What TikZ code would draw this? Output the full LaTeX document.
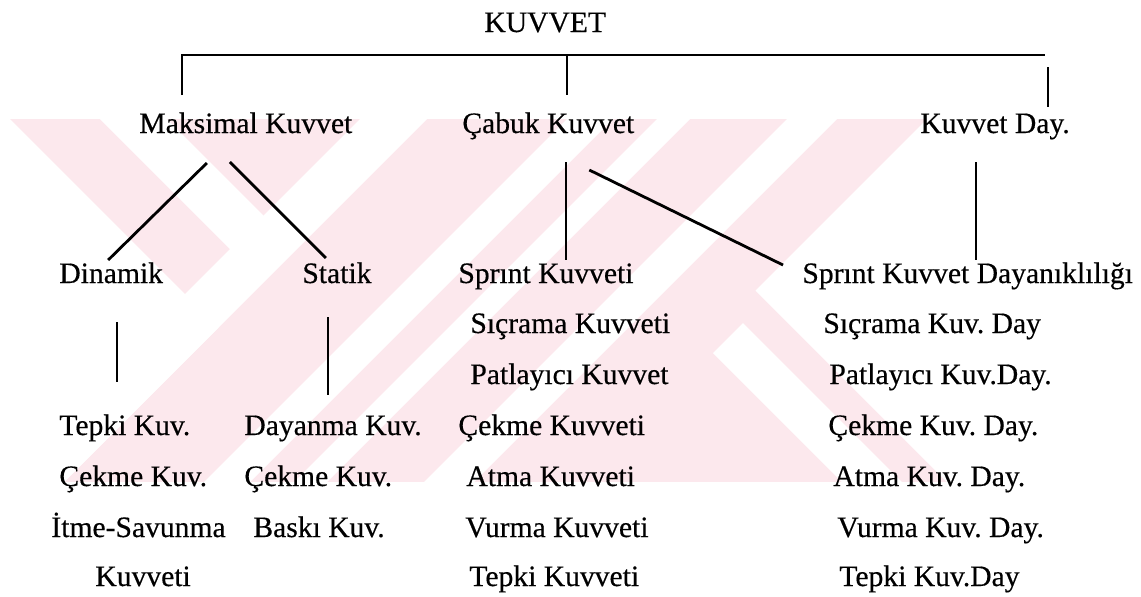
\documentclass[tikz,border=0pt]{standalone}
\usepackage{fontspec}
\setmainfont{Liberation Serif}[FakeBold=0.4]
\usetikzlibrary{positioning,calc}
\definecolor{wmpink}{RGB}{252,232,237}
\frenchspacing

\begin{document}
\begin{tikzpicture}[
    x=0.5pt, y=-0.5pt,
    lbl/.style={inner sep=0pt, anchor=base west, font=\fontsize{14.8}{17}\selectfont},
    link/.style={line width=1.1pt},
    slant/.style={line width=1.4pt}
]
\useasboundingbox (0,0) rectangle (1141,596);

% watermark
\begin{scope}
\clip (10,119) rectangle (1141,482);
\fill[wmpink] (10,119) rectangle (1141,482);
\fill[white] (10,119) -- (218.5,327.5) -- (64,482) -- (0,482) -- (0,119) -- cycle;
\fill[white] (360,119) -- (427,119) -- (64,482) -- (-3,482) -- cycle;
\fill[white] (100,119) -- (167,119) -- (297,249) -- (230,249) -- cycle;
\fill[white] (567,119) -- (613,119) -- (250,482) -- (204,482) -- cycle;
\fill[white] (657,119) -- (690,119) -- (327,482) -- (294,482) -- cycle;
\fill[white] (787,119) -- (837,119) -- (474,482) -- (424,482) -- cycle;
\fill[white] (927,119) -- (755.5,290.5) -- (947,482) -- (1141,482) -- (1141,119) -- cycle;
\fill[white] (743,323) -- (713,353) -- (842,482) -- (902,482) -- cycle;
\end{scope}

\node (kuvvet) [lbl] at (484,32) {KUVVET};

\node (maks) [lbl] at (139,133) {Maksimal Kuvvet};
\node (cabuk) [lbl] at (462,133) {Çabuk Kuvvet};
\node (kday) [lbl] at (920,133) {Kuvvet Day.};

\node (dinamik) [lbl] at (59,283) {Dinamik};
\node (statik) [lbl] at (302,283) {Statik};
\node (sprint) [lbl] at (458,283) {Sprınt Kuvveti};
\node (sprintday) [lbl] at (802,283) {Sprınt Kuvvet Dayanıklılığı};

\node (tepki1) [lbl] at (59,435) {Tepki Kuv.};
\node (cekme1) [lbl] at (59,486) {Çekme Kuv.};
\node (itme) [lbl] at (51,537) {İtme-Savunma};
\node (itmek) [lbl] at (95,586) {Kuvveti};

\node (dayanma) [lbl] at (244,435) {Dayanma Kuv.};
\node (cekme2) [lbl] at (244,486) {Çekme Kuv.};
\node (baski) [lbl] at (253,537) {Baskı Kuv.};

\node (sicrama) [lbl] at (470,333) {Sıçrama Kuvveti};
\node (patlayici) [lbl] at (470,384) {Patlayıcı Kuvvet};
\node (cekme3) [lbl] at (458,435) {Çekme Kuvveti};
\node (atma) [lbl] at (466,486) {Atma Kuvveti};
\node (vurma) [lbl] at (465,537) {Vurma Kuvveti};
\node (tepki3) [lbl] at (469,586) {Tepki Kuvveti};

\node (sicramaday) [lbl] at (823,333) {Sıçrama Kuv. Day};
\node (patlayiciday) [lbl] at (829,384) {Patlayıcı Kuv.Day.};
\node (cekmeday) [lbl] at (828,435) {Çekme Kuv. Day.};
\node (atmaday) [lbl] at (833,486) {Atma Kuv. Day.};
\node (vurmaday) [lbl] at (837,537) {Vurma Kuv. Day.};
\node (tepkiday) [lbl] at (839,586) {Tepki Kuv.Day};

% bracket under KUVVET
\draw[link] ($(maks.base)+(-64,-38)$) |- ($(kday.base)+(50,-78)$);
\draw[link] ($(cabuk.base)+(19,-78)$) -- ($(cabuk.base)+(19,-38)$);
\draw[link] ($(kday.base)+(53,-66)$) -- ($(kday.base)+(53,-26)$);

% second level
\draw[slant] ($(maks.base)+(-39,30)$) -- ($(dinamik.base)+(-3,-23)$);
\draw[slant] ($(maks.base)+(-16,29)$) -- ($(statik.base)+(-11,-25)$);
\draw[link] ($(cabuk.base)+(18,29)$) coordinate (c1) -- (c1 |- {$(sprint.base)+(0,-23)$});
\draw[slant] ($(cabuk.base)+(41,37)$) -- ($(sprintday.base west)+(-19,-18)$);
\draw[link] ($(kday.base)+(-19,29)$) coordinate (k1) -- (k1 |- {$(sprintday.base)+(0,-23)$});

% third level
\draw[link] ($(dinamik.base)+(6,39)$) coordinate (d1) -- (d1 |- {$(tepki1.base)+(0,-53)$});
\draw[link] ($(statik.base)+(-9,34)$) coordinate (s1) -- (s1 |- {$(dayanma.base)+(0,-40)$});

\end{tikzpicture}
\end{document}
